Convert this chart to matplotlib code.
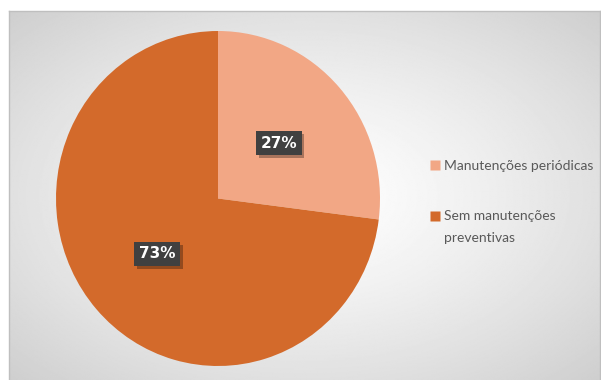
import numpy as np
import matplotlib.pyplot as plt
from matplotlib.lines import Line2D
import matplotlib.patheffects as pe

labels = ['Manutenções periódicas', 'Sem manutenções\npreventivas']
shares = [27, 73]
colors = ['#F2A785', '#D36A2B']

W, H = 601, 380
fig = plt.figure(figsize=(W / 100, H / 100), dpi=100)
fig.patch.set_facecolor('white')

# chart area with a soft radial gradient
bg = fig.add_axes([9 / W, 0, (600 - 9) / W, (380 - 11) / H])
yy, xx = np.mgrid[0:1:300j, 0:1:480j]
r = np.sqrt(((xx - 0.5) / 0.75) ** 2 + ((yy - 0.5) / 0.75) ** 2)
shade = 1.0 - 0.19 * np.clip(r / 0.94, 0, 1) ** 1.3
bg.imshow(shade, cmap='gray', vmin=0, vmax=1, aspect='auto',
          extent=[0, 1, 0, 1], interpolation='bilinear')
bg.set_xlim(0, 1)
bg.set_ylim(0, 1)
bg.set_xticks([])
bg.set_yticks([])
bg.spines['bottom'].set_visible(False)
for side in ['top', 'left', 'right']:
    bg.spines[side].set_color('#BFBFBF')
    bg.spines[side].set_linewidth(1.0)

# pie (slightly taller than wide)
cx, cy, rx, ry = 218, 198.5, 162, 167.5
ax = fig.add_axes([(cx - rx) / W, (H - cy - ry) / H, 2 * rx / W, 2 * ry / H])
ax.set_facecolor('none')
wedges, texts, autotexts = ax.pie(shares, colors=colors, startangle=90,
                                  counterclock=False, radius=1,
                                  autopct='%d%%', pctdistance=0.5,
                                  wedgeprops=dict(linewidth=0))
ax.set_aspect('auto')
ax.set_xlim(-1, 1)
ax.set_ylim(-1, 1)
ax.axis('off')
for t in autotexts:
    t.set_color('white')
    t.set_fontweight('bold')
    t.set_fontsize(11)
    t.set_bbox(dict(boxstyle='square,pad=0.3', facecolor='#404040',
                    edgecolor='none'))
    t.get_bbox_patch().set_path_effects(
        [pe.SimplePatchShadow(offset=(2, -2), shadow_rgbFace='black', alpha=0.3),
         pe.Normal()])

# legend
handles = [Line2D([], [], linestyle='none', marker='s', markersize=7,
                  markerfacecolor=c, markeredgecolor='none') for c in colors]
leg = fig.legend(handles, labels, loc='upper left',
                 bbox_to_anchor=(418 / W, 1 - 147 / H), frameon=False,
                 handlelength=0.6, handletextpad=0.35, labelspacing=2.75,
                 prop={'family': 'Lato', 'size': 10})
for t in leg.get_texts():
    t.set_color('#595959')
    t.set_linespacing(2.0)

# keep the marker of the two-line entry level with its first line
fig.canvas.draw()
one_line = leg.get_texts()[0].get_window_extent().height
two_line = leg.get_texts()[1].get_window_extent().height
shift_px = 0.5 * (two_line - one_line)
h2 = leg.legend_handles[1]
h2.set_ydata(np.asarray(h2.get_ydata(), dtype=float) + shift_px * 72 / fig.dpi)

fig.savefig('out.png', dpi=100)
